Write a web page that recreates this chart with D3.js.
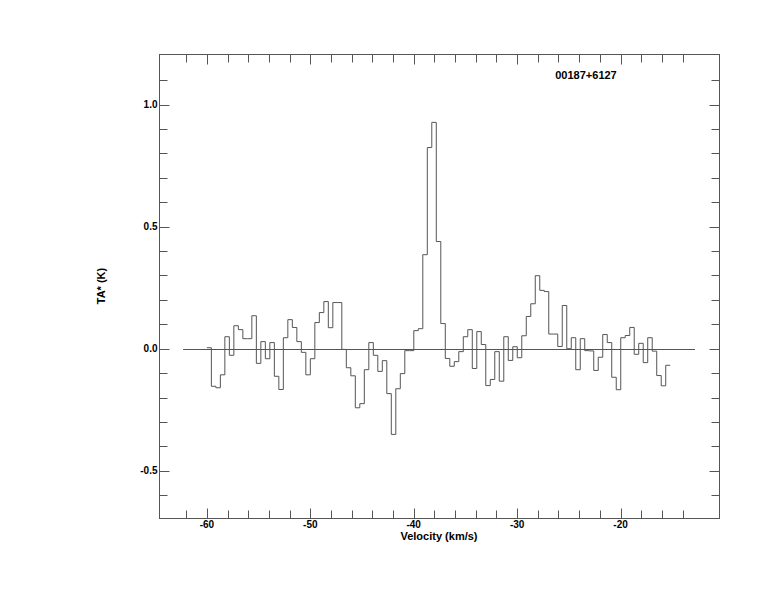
<!DOCTYPE html>
<html>
<head>
<meta charset="utf-8">
<script src="https://cdn.jsdelivr.net/npm/d3@7"></script>
<style>
  html, body { margin: 0; padding: 0; background: #fff; }
  text { font-family: "Liberation Sans", Arial, Helvetica, sans-serif; font-weight: bold; fill: #000; }
</style>
</head>
<body>
<svg id="chart" width="774" height="612"></svg>
<script>
// ---- data ----
const sourceName = "00187+6127";
const xTitle = "Velocity (km/s)";
const yTitle = "TA* (K)";
const velStart = -60.0;      // left edge of first channel (km/s)
const chanWidth = 0.435;     // channel width (km/s)
const taValues = [
  0.004, -0.154, -0.160, -0.107, 0.049, -0.027, 0.094, 0.078, 0.041, 0.041,
  0.135, -0.060, 0.029, -0.041, 0.025, -0.113, -0.167, 0.045, 0.119, 0.087,
  0.029, -0.015, -0.107, -0.041, 0.107, 0.148, 0.193, 0.086, 0.189, 0.189,
  -0.003, -0.078, -0.111, -0.242, -0.225, -0.086, 0.025, -0.027, -0.093, -0.049,
  -0.184, -0.351, -0.164, -0.102, -0.008, -0.008, 0.074, 0.082, 0.385, 0.824,
  0.927, 0.439, 0.103, -0.040, -0.072, -0.053, -0.012, 0.049, 0.078, -0.081,
  0.070, 0.017, -0.151, -0.126, -0.012, -0.133, 0.049, -0.048, 0.008, -0.037,
  0.053, 0.132, 0.184, 0.299, 0.239, 0.234, 0.060, 0.060, 0.009, 0.177,
  0.000, 0.045, -0.086, 0.041, -0.008, -0.009, -0.089, -0.035, 0.058, 0.025,
  -0.117, -0.168, 0.045, 0.054, 0.087, -0.023, 0.022, -0.057, 0.045, -0.010,
  -0.110, -0.152, -0.068
];
const baselineRange = [-62.3, -12.8];
const xMajorLabels = [-60, -50, -40, -30, -20];
const yMajorLabels = [-0.5, 0.0, 0.5, 1.0];
const xTickRange = [-62, -14, 2];
const yTickRange = [-0.6, 1.1, 0.1];

(function draw() {
  const svg = d3.select("#chart");
  const pl = 159.5, pr = 719.5, pt = 54.5, pb = 518.5;
  const x = d3.scaleLinear().domain([-64.58, -10.43]).range([pl, pr]);
  const y = d3.scaleLinear().domain([-0.6955, 1.205]).range([pb, pt]);
  const lineColor = "#555";

  // frame
  svg.append("rect")
    .attr("x", pl).attr("y", pt)
    .attr("width", pr - pl).attr("height", pb - pt)
    .attr("fill", "none").attr("stroke", lineColor).attr("stroke-width", 1);

  // ticks
  const xTicks = d3.range(xTickRange[0], xTickRange[1] + 0.001, xTickRange[2]);
  const nY = Math.round((yTickRange[1] - yTickRange[0]) / yTickRange[2]);
  const yTicks = d3.range(0, nY + 1).map(i => +(yTickRange[0] + i * yTickRange[2]).toFixed(2));
  const isMajorX = v => Math.abs(v % 10) < 1e-6;
  const isMajorY = v => Math.abs(Math.round(v * 10) % 5) === 0;

  const g = svg.append("g").attr("stroke", lineColor).attr("stroke-width", 1);
  xTicks.forEach(v => {
    const px = Math.round(x(v)) + 0.5;
    const len = isMajorX(v) ? 10 : 8;
    g.append("line").attr("x1", px).attr("x2", px).attr("y1", pb).attr("y2", pb - len);
    g.append("line").attr("x1", px).attr("x2", px).attr("y1", pt).attr("y2", pt + len);
  });
  yTicks.forEach(v => {
    const py = Math.round(y(v)) + 0.5;
    const len = isMajorY(v) ? 10 : 8;
    g.append("line").attr("y1", py).attr("y2", py).attr("x1", pl).attr("x2", pl + len);
    g.append("line").attr("y1", py).attr("y2", py).attr("x1", pr).attr("x2", pr - len);
  });

  // tick labels (plain hyphen-minus as in the reference)
  svg.append("g").selectAll("text").data(xMajorLabels).join("text")
    .attr("x", d => x(d)).attr("y", 527.5)
    .attr("text-anchor", "middle").attr("font-size", 10)
    .text(d => d.toFixed(0));
  svg.append("g").selectAll("text").data(yMajorLabels).join("text")
    .attr("x", 157.5).attr("y", d => y(d) + 3.6)
    .attr("text-anchor", "end").attr("font-size", 10)
    .text(d => d.toFixed(1));

  // axis titles
  svg.append("text").attr("x", 439).attr("y", 540)
    .attr("text-anchor", "middle").attr("font-size", 11).text(xTitle);
  svg.append("text").attr("transform", "translate(105,286) rotate(-90)")
    .attr("text-anchor", "middle").attr("font-size", 11).text(yTitle);

  // source name
  svg.append("text").attr("x", 586).attr("y", 79)
    .attr("text-anchor", "middle").attr("font-size", 11).text(sourceName);

  // baseline
  svg.append("line")
    .attr("x1", x(baselineRange[0])).attr("x2", x(baselineRange[1]))
    .attr("y1", Math.round(y(0)) + 0.5).attr("y2", Math.round(y(0)) + 0.5)
    .attr("stroke", lineColor).attr("stroke-width", 1);

  // histogram spectrum
  const pts = taValues.map((v, i) => [velStart + i * chanWidth, v]);
  pts.push([velStart + taValues.length * chanWidth, taValues[taValues.length - 1]]);
  const line = d3.line().x(d => x(d[0])).y(d => y(d[1])).curve(d3.curveStepAfter);
  svg.append("path").attr("d", line(pts))
    .attr("fill", "none").attr("stroke", lineColor).attr("stroke-width", 1);
})();
</script>
</body>
</html>
